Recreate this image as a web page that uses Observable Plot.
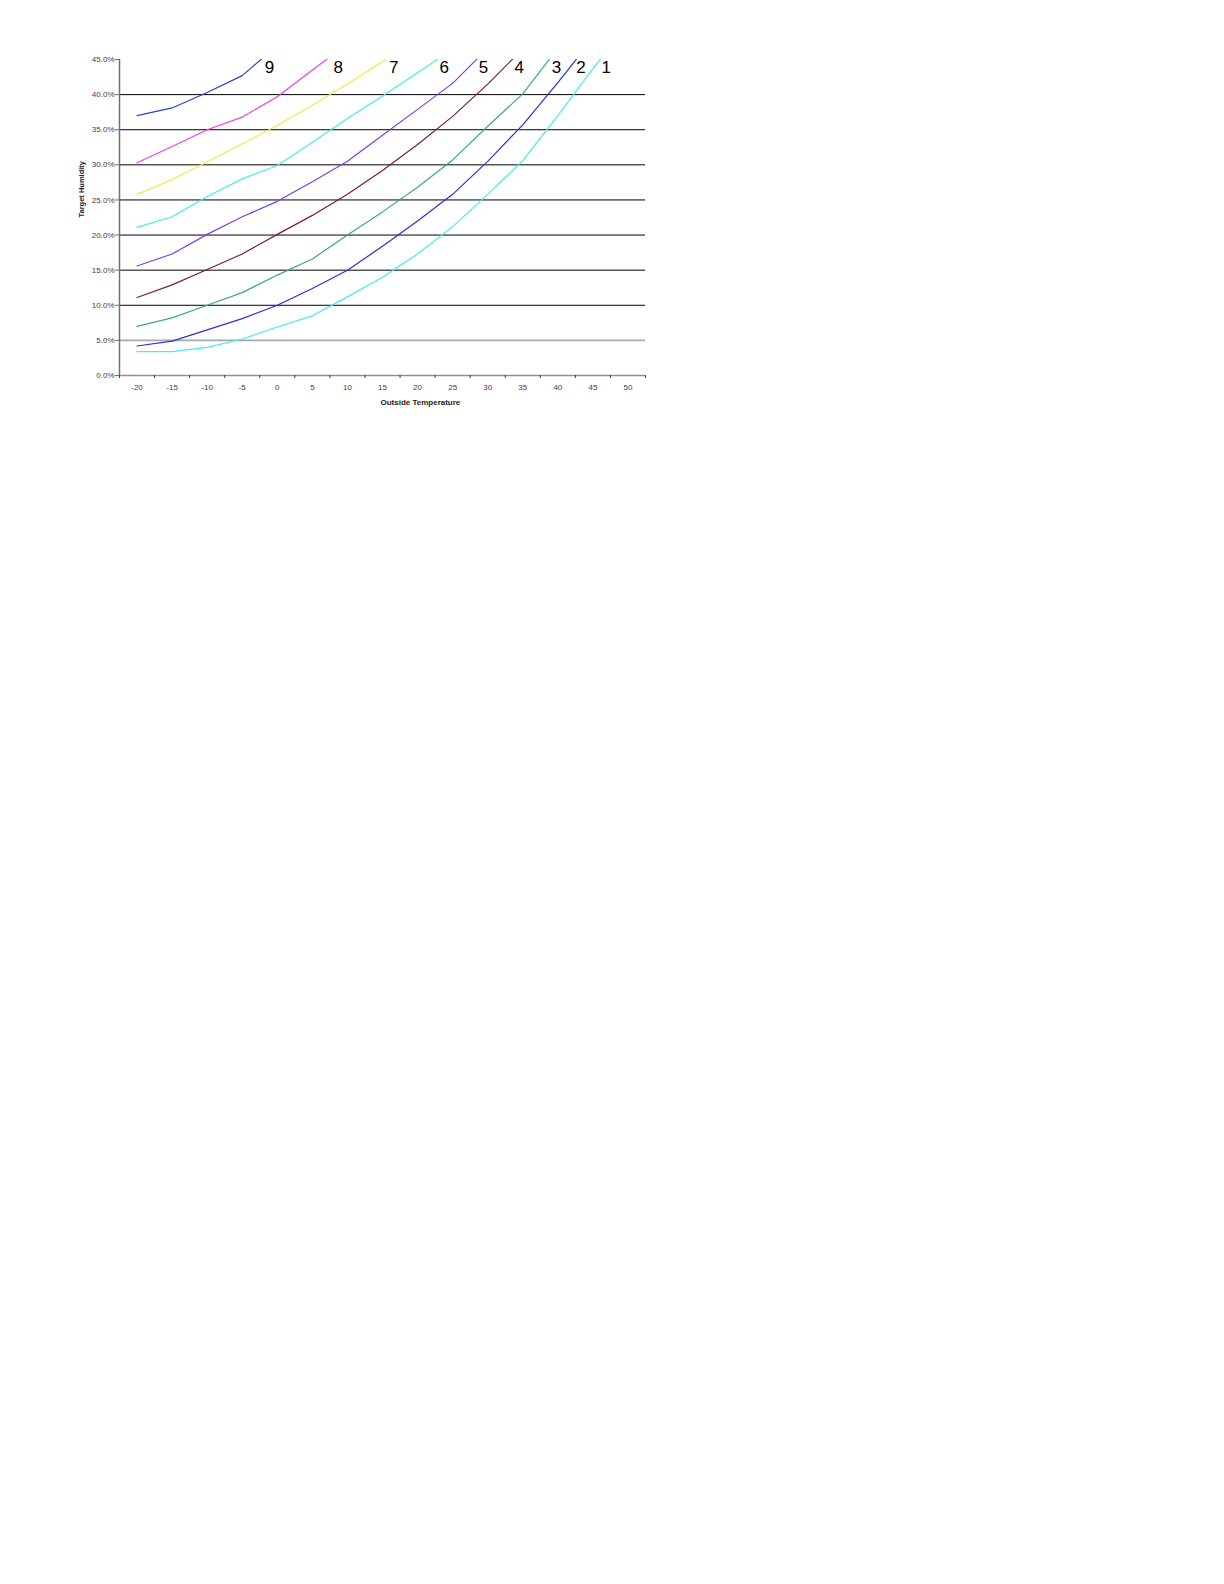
<!DOCTYPE html>
<html>
<head>
<meta charset="utf-8">
<script src="https://cdn.jsdelivr.net/npm/d3@7"></script>
<script src="https://cdn.jsdelivr.net/npm/@observablehq/plot@0.6"></script>
<style>
  body { margin: 0; background: #fff; }
  #chart { position: absolute; left: 0; top: 0; }
</style>
</head>
<body>
<div id="chart"></div>
<script>
// Outside temperature categories (data points every 5 degrees)
const temps = [-20, -15, -10, -5, 0, 5, 10, 15, 20, 25, 30, 35, 40, 45, 50];

// Target humidity (%) per curve
const series1 = [3.4, 3.4, 4.0, 5.2, 6.9, 8.5, 11.2, 14.0, 17.3, 21.2, 25.8, 30.6, 37.0, 43.7, 50.0];
const series2 = [4.2, 4.9, 6.5, 8.1, 10.0, 12.4, 15.0, 18.4, 22.0, 25.8, 30.5, 35.7, 41.7, 48.0];
const series3 = [7.0, 8.2, 10.0, 11.8, 14.3, 16.6, 20.0, 23.3, 26.8, 30.7, 35.5, 40.1, 46.6];
const series4 = [11.1, 12.9, 15.1, 17.3, 20.1, 22.8, 25.8, 29.2, 32.9, 36.9, 41.5, 46.5];
const series5 = [15.6, 17.3, 20.1, 22.6, 24.8, 27.6, 30.5, 34.2, 37.9, 41.6, 46.6];
const series6 = [21.1, 22.6, 25.5, 28.0, 29.9, 33.2, 36.6, 39.8, 43.1, 46.5];
const series7 = [25.8, 27.9, 30.4, 33.0, 35.6, 38.5, 41.5, 44.7, 48.0];
const series8 = [30.3, 32.6, 35.0, 36.8, 39.7, 43.5, 47.2];
const series9 = [37.0, 38.1, 40.3, 42.7, 47.0];

const seriesNames = ["1", "2", "3", "4", "5", "6", "7", "8", "9"];
const seriesColors = ["#45ecec", "#2a2ee0", "#3aaa80", "#7a1e30", "#7d3fe0", "#45ecec", "#ecec45", "#f040e8", "#2a44c8"];

// Curve number labels near the top
const labelTemps = [46.9, 43.3, 39.8, 34.5, 29.4, 23.8, 16.6, 8.7, -1.1];
const labelHumidity = 43.8;

// Axes
const yTicks = [0, 5, 10, 15, 20, 25, 30, 35, 40, 45];
const xTickLabels = [-20, -15, -10, -5, 0, 5, 10, 15, 20, 25, 30, 35, 40, 45, 50];
const xTickMarks = [-22.5, -17.5, -12.5, -7.5, -2.5, 2.5, 7.5, 12.5, 17.5, 22.5, 27.5, 32.5, 37.5, 42.5, 47.5, 52.5];

const allSeries = [series1, series2, series3, series4, series5, series6, series7, series8, series9];
const data = [];
allSeries.forEach((vals, i) => vals.forEach((v, j) => data.push({series: seriesNames[i], t: temps[j], h: v})));
const labels = seriesNames.map((n, i) => ({name: n, t: labelTemps[i], h: labelHumidity}));

const font = "'Liberation Sans', Arial, sans-serif";

const chart = Plot.plot({
  width: 660,
  height: 420,
  marginLeft: 119,
  marginRight: 15,
  marginTop: 59,
  marginBottom: 45,
  x: {domain: [-22.5, 52.5], axis: null},
  y: {domain: [0, 45], axis: null},
  color: {domain: seriesNames, range: seriesColors},
  style: {fontFamily: font, background: "white", overflow: "visible"},
  marks: [
    Plot.ruleY(yTicks.filter(d => d >= 10 && d < 45), {stroke: "#000", strokeWidth: 1}),
    Plot.ruleY([5], {stroke: "#a8a8a8", strokeWidth: 1.6}),
    Plot.line(data, {x: "t", y: "h", z: "series", stroke: "series", strokeWidth: 1.2, clip: true}),
    // axis lines
    Plot.ruleX([-22.5], {stroke: "#707070", strokeWidth: 1.5}),
    Plot.ruleY([0], {stroke: "#909090", strokeWidth: 1.5}),
    // y ticks and labels
    Plot.axisY({ticks: yTicks, tickSize: 4, tickPadding: 1, tickFormat: d => d.toFixed(1) + "%", fontSize: 8, stroke: "#707070", fill: "#404040", label: null}),
    // x ticks and labels
    Plot.axisX({ticks: xTickMarks, tickSize: 3, tickFormat: () => "", stroke: "#404040", label: null}),
    Plot.text(xTickLabels, {x: d => d, frameAnchor: "bottom", lineAnchor: "middle", dy: 12, text: d => String(d), fontSize: 8, fill: "#404040"}),
    // axis titles
    Plot.text(["Outside Temperature"], {x: 20.4, frameAnchor: "bottom", lineAnchor: "middle", dy: 27, text: d => d, fontSize: 8, fontWeight: "bold", fill: "#222"}),
    Plot.text(["Target Humidity"], {frameAnchor: "left", dx: -38, rotate: -90, text: d => d, fontSize: 7.5, fontWeight: "bold", fill: "#222"}),
    // curve numbers
    Plot.text(labels, {x: "t", y: "h", text: "name", fontSize: 17, fill: "#000"})
  ]
});
document.getElementById("chart").appendChild(chart);
</script>
</body>
</html>
